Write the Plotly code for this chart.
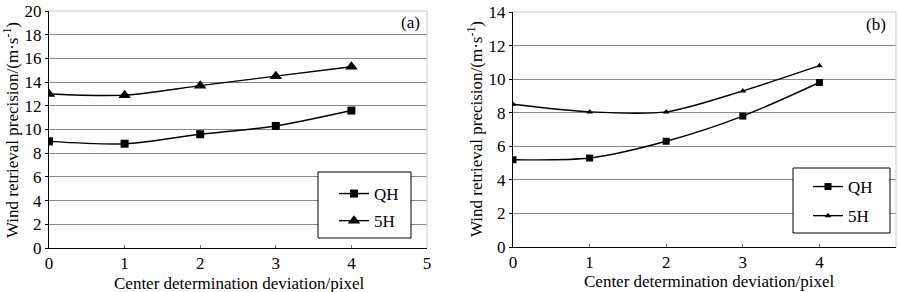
import plotly.graph_objects as go

x_vals = [0, 1, 2, 3, 4]
qh_a = [9.0, 8.8, 9.6, 10.3, 11.6]
h5_a = [13.0, 12.9, 13.7, 14.5, 15.3]
qh_b = [5.2, 5.3, 6.3, 7.8, 9.8]
h5_b = [8.5, 8.05, 8.05, 9.3, 10.8]

FONT = "'Liberation Serif', 'Times New Roman', Times, serif"
W, H = 900, 292

def px_x(p):
    return p / W

def px_y(p):
    return 1 - p / H

fig = go.Figure()

line = dict(color="black", width=1.4, shape="spline", smoothing=0.8)

fig.add_trace(go.Scatter(x=x_vals, y=qh_a, mode="lines+markers", name="QH",
                         line=line, marker=dict(symbol="square", size=8, color="black"),
                         xaxis="x", yaxis="y", legend="legend", legendgroup="a1"))
fig.add_trace(go.Scatter(x=x_vals, y=h5_a, mode="lines+markers", name="5H",
                         line=line, marker=dict(symbol="triangle-up", size=11, color="black"),
                         xaxis="x", yaxis="y", legend="legend", legendgroup="a2"))
fig.add_trace(go.Scatter(x=x_vals, y=qh_b, mode="lines+markers", name="QH",
                         line=line, marker=dict(symbol="square", size=7, color="black"),
                         xaxis="x2", yaxis="y2", legend="legend2", legendgroup="b1"))
fig.add_trace(go.Scatter(x=x_vals, y=h5_b, mode="lines+markers", name="5H",
                         line=line, marker=dict(symbol="triangle-up", size=6, color="black"),
                         xaxis="x2", yaxis="y2", legend="legend2", legendgroup="b2"))

tickfont = dict(family=FONT, size=17, color="black")

def xaxis(domain, anchor):
    return dict(domain=domain, anchor=anchor, range=[0, 5], dtick=1, tick0=0,
                showgrid=False, zeroline=False, showline=True, linecolor="black",
                linewidth=1, ticks="inside", ticklen=3, tickcolor="#777",
                tickfont=tickfont, mirror=False, fixedrange=True, automargin=False)

def yaxis(domain, anchor, top):
    return dict(domain=domain, anchor=anchor, range=[0, top], dtick=2, tick0=0,
                showgrid=True, gridcolor="#858585", gridwidth=1, zeroline=False,
                showline=True, linecolor="black", linewidth=1, ticks="outside",
                ticklen=3, tickcolor="black", tickfont=tickfont, fixedrange=True,
                automargin=False)

legfont = dict(family=FONT, size=17, color="black")
fig.update_layout(
    width=W, height=H, autosize=False,
    margin=dict(l=0, r=0, t=0, b=0, pad=0, autoexpand=False),
    paper_bgcolor="white", plot_bgcolor="white",
    font=dict(family=FONT, color="black", size=17),
    xaxis=xaxis([px_x(49), px_x(427)], "y"),
    yaxis=yaxis([px_y(248), px_y(11)], "x", 20),
    xaxis2=xaxis([px_x(513), px_x(896)], "y2"),
    yaxis2=yaxis([px_y(247), px_y(12)], "x2", 14),
    legend=dict(x=px_x(334), y=px_y(176), xanchor="left", yanchor="top",
                bgcolor="rgba(0,0,0,0)", borderwidth=0,
                font=legfont, tracegroupgap=2, itemwidth=30),
    legend2=dict(x=px_x(808), y=px_y(169), xanchor="left", yanchor="top",
                 bgcolor="rgba(0,0,0,0)", borderwidth=0,
                 font=legfont, tracegroupgap=4, itemwidth=30),
    showlegend=True,
)

shapes = []
for (x0, x1, y0, y1) in [(49, 427, 11, 248), (513, 896, 12, 247)]:
    shapes.append(dict(type="line", xref="paper", yref="paper",
                       x0=px_x(x1), x1=px_x(x1), y0=px_y(y0), y1=px_y(y1),
                       line=dict(color="#c8c8c8", width=1)))
    shapes.append(dict(type="line", xref="paper", yref="paper",
                       x0=px_x(x0), x1=px_x(x1), y0=px_y(y0), y1=px_y(y0),
                       line=dict(color="#c8c8c8", width=1)))
# legend frames
for (lx0, lx1, ly0, ly1) in [(318, 411, 172, 238), (793, 890, 168, 233)]:
    shapes.append(dict(type="rect", xref="paper", yref="paper", layer="above",
                       x0=px_x(lx0), x1=px_x(lx1), y0=px_y(ly1), y1=px_y(ly0),
                       fillcolor="white", line=dict(color="black", width=1)))
fig.update_layout(shapes=shapes)

ytitle = "Wind retrieval precision/(m·s<sup>-1</sup>)"
xtitle = "Center determination deviation/pixel"
common = dict(showarrow=False, xref="paper", yref="paper",
              xanchor="center", yanchor="middle")
ann = [
    dict(text=ytitle, x=px_x(11), y=px_y(130), textangle=-90,
         font=dict(family=FONT, size=17), **common),
    dict(text=ytitle, x=px_x(475), y=px_y(129), textangle=-90,
         font=dict(family=FONT, size=17), **common),
    dict(text=xtitle, x=px_x(239), y=px_y(283),
         font=dict(family=FONT, size=17), **common),
    dict(text=xtitle, x=px_x(709), y=px_y(281),
         font=dict(family=FONT, size=17), **common),
    dict(text="(a)", x=px_x(410), y=px_y(23),
         font=dict(family=FONT, size=17), **common),
    dict(text="(b)", x=px_x(876), y=px_y(24),
         font=dict(family=FONT, size=17), **common),
]
fig.update_layout(annotations=ann)

fig.write_html("out.html", config={"displayModeBar": False, "staticPlot": True})

with open("out.html", "r", encoding="utf-8") as f:
    html = f.read()
style = "<style>html,body{margin:0;padding:0;overflow:hidden;background:white;}</style>"
if "<head>" in html:
    html = html.replace("<head>", "<head>" + style, 1)
else:
    html = style + html
with open("out.html", "w", encoding="utf-8") as f:
    f.write(html)
